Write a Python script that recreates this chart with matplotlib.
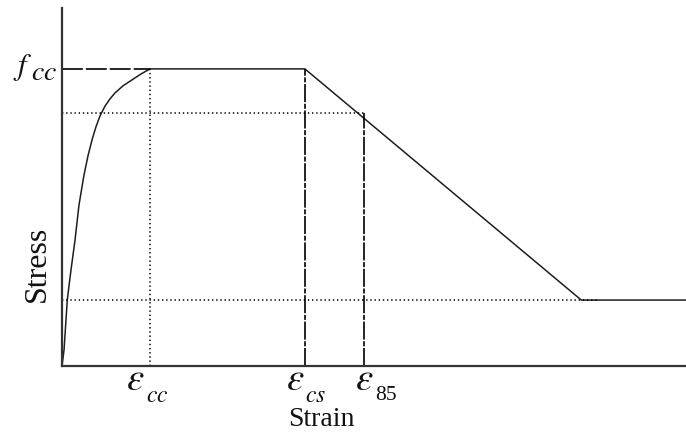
import matplotlib
matplotlib.use("Agg")
import matplotlib.pyplot as plt

plt.rcParams['mathtext.fontset'] = 'stix'
plt.rcParams['lines.scale_dashes'] = False

# ---- data (normalised: strain / eps_cc, stress / f_cc) ----
curve_strain = [0.0, 0.023, 0.060, 0.102, 0.148, 0.193, 0.250, 0.295, 0.341,
                0.386, 0.432, 0.489, 0.545, 0.602, 0.693, 0.795, 0.898, 1.0]
curve_stress = [0.0, 0.054, 0.222, 0.323, 0.424, 0.542, 0.643, 0.707, 0.761,
                0.805, 0.842, 0.875, 0.899, 0.919, 0.943, 0.963, 0.983, 1.0]

eps_cc = 1.0
eps_cs = 2.76
eps_85 = 3.43
eps_res = 5.9
eps_max = 7.09
dot_res_end = 6.08

f_cc = 1.0
f_85 = 0.85
f_res = 0.222
y_max = 1.205

tick_pos = [eps_cc, eps_cs, eps_85]
tick_subs = ['cc', 'cs', '85']

W, H = 686, 437
fig = plt.figure(figsize=(W / 100, H / 100), dpi=100)
ax = fig.add_axes([62 / W, (H - 366) / H, 624 / W, 358 / H])

line_col = '#1e1e1e'
dot = (0, (1.0, 2.0))
dash = (0, (15, 2.2))
dashdot = (0, (13, 1.2, 3.6, 1.2))

# ascending curve + plateau + descending + residual
ax.plot(curve_strain, curve_stress, color=line_col, lw=1.1, solid_joinstyle='round')
ax.plot([eps_cc, eps_cs, eps_res, eps_max], [f_cc, f_cc, f_res, f_res],
        color=line_col, lw=1.1)

# dashed f_cc line from axis to eps_cc
ax.plot([0, eps_cc], [f_cc, f_cc], color='black', lw=1.2, linestyle=dash)
# dotted guides
ax.plot([eps_cc, eps_cc], [0, f_cc], color='black', lw=1.1, linestyle=dot)
ax.plot([0, eps_85], [f_85, f_85], color='black', lw=1.1, linestyle=dot)
ax.plot([0, dot_res_end], [f_res, f_res], color='black', lw=1.1, linestyle=dot)
# dash-dot verticals
ax.plot([eps_cs, eps_cs], [0, f_cc], color='black', lw=1.2, linestyle=dashdot)
ax.plot([eps_85, eps_85], [0, f_85], color='black', lw=1.2, linestyle=dashdot)

ax.set_xlim(0, eps_max)
ax.set_ylim(0, y_max)
for s in ['top', 'right']:
    ax.spines[s].set_visible(False)
for s in ['left', 'bottom']:
    ax.spines[s].set_linewidth(1.6)
    ax.spines[s].set_color('#333333')
ax.set_xticks([])
ax.set_yticks([])

txt_col = '#111111'
# strain labels: epsilon + lowered subscript
eps_right = [145, 305, 374]
sub_left = [146, 305, 375]
for er, sl, sub in zip(eps_right, sub_left, tick_subs):
    fig.text(er / W, 1 - 390 / H, r'$\varepsilon$', ha='right', va='baseline',
             fontsize=28, color=txt_col)
    if sub.isdigit():
        fig.text(sl / W, 1 - 400 / H, sub, ha='left', va='baseline',
                 family='Liberation Serif', fontsize=15.5, color=txt_col)
    else:
        fig.text(sl / W, 1 - 402 / H, r'$' + sub + '$', ha='left', va='baseline',
                 fontsize=17, color=txt_col)

# f_cc label
fig.text(32 / W, 1 - 75 / H, r'$f$', ha='right', va='baseline', fontsize=22, color=txt_col)
fig.text(31 / W, 1 - 80 / H, r'$cc$', ha='left', va='baseline', fontsize=20, color=txt_col)

fig.text(321 / W, 1 - 420 / H, 'Strain', ha='center', va='center',
         family='Liberation Serif', fontsize=20, color=txt_col)
fig.text(37 / W, 1 - 264 / H, 'Stress', ha='center', va='center', rotation=90,
         family='Liberation Serif', fontsize=23, color=txt_col)

fig.savefig('out.png', dpi=100)
